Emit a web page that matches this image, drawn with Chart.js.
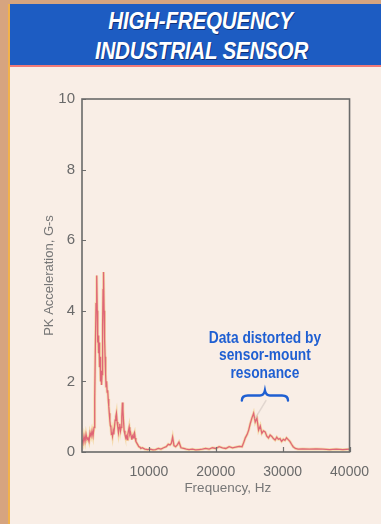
<!DOCTYPE html>
<html>
<head>
<meta charset="utf-8">
<script src="https://cdn.jsdelivr.net/npm/chart.js@4/dist/chart.umd.min.js"></script>
<style>
  html, body { margin: 0; padding: 0; }
  body { width: 381px; height: 524px; background: #d6a47f; position: relative; overflow: hidden; }
  #panel { position: absolute; left: 8px; top: 4px; right: 0; bottom: 0;
           background: #f9eee6; border-left: 2px solid #f2b24a; }
  #header { position: absolute; left: 0; top: 0; right: 0; height: 61px;
            background: #1d5cc2; border-bottom: 2px solid #f07a78; }
  #header div { position: absolute; left: 0; right: 0; text-align: center; color: #fff;
                font-family: "Liberation Sans", Arial, sans-serif;
                font-weight: bold; font-style: italic; font-size: 24px; line-height: 24px;
                letter-spacing: -0.3px;
                transform: scaleX(0.86); transform-origin: 50% 50%;
                text-shadow: 1px 1px 0 #0e2f78; }
  #wrap { position: absolute; left: 10px; top: 67px; width: 371px; height: 457px; }
</style>
</head>
<body>
<div id="panel">
  <div id="header">
    <div style="top:5px; left:10px;">HIGH-FREQUENCY</div>
    <div style="top:35px; left:12px;">INDUSTRIAL SENSOR</div>
  </div>
</div>
<div id="wrap"><canvas id="c" width="371" height="457"></canvas></div>
<script>
// Vibration spectrum of the high-frequency sensor
const freqHz = [
  0, 150, 300, 450, 600, 750, 900, 1050, 1200, 1350, 1500, 1650, 1800, 1900, 2000, 2100, 2200,
  2280, 2350, 2420, 2480, 2550, 2620, 2700, 2780, 2850, 2920, 3000, 3080, 3150, 3220, 3300,
  3380, 3450, 3530, 3600, 3680, 3760, 3840, 3920, 4000, 4080, 4160, 4240, 4320, 4400, 4480,
  4560, 4650, 4750, 4850, 4950, 5050, 5150, 5250, 5350, 5450, 5550, 5650, 5750, 5850, 5950,
  6050, 6120, 6200, 6300, 6420, 6550, 6650, 6750, 6850, 6950, 7050, 7150, 7250, 7350, 7450,
  7550, 7650, 7750, 7850, 7950, 8050, 8200, 8350, 8500, 8650, 8800, 9000, 9400, 9800,
  10200, 10600, 11000, 11400, 11800, 12200, 12600, 12900, 13150, 13350, 13550, 13750, 14000,
  14250, 14500, 14800, 15200, 15600, 16000, 16500, 17000, 17500, 18000, 18500, 19000, 19500,
  20000, 20500, 21000, 21500, 22000, 22500, 23000, 23500, 23930, 24200, 24420, 24700, 24920,
  25150, 25400, 25660, 25900, 26150, 26400, 26650, 26890, 27130, 27380, 27630, 27880, 28130,
  28380, 28620, 28870, 29120, 29360, 29600, 29840, 30100, 30340, 30580, 30830, 31080, 31330,
  31570, 31900, 32300, 33000, 34000, 35000, 36000, 37000, 38000, 39000, 40000
];
const accelG = [
  0.35, 0.25, 0.45, 0.30, 0.50, 0.35, 0.40, 0.30, 0.55, 0.45, 0.60, 0.45, 0.70, 1.50, 3.00, 4.20, 5.00,
  4.00, 3.10, 3.30, 2.80, 3.10, 2.40, 2.70, 2.00, 2.30, 1.90, 2.20, 3.60, 4.60, 5.10, 4.00,
  3.20, 2.70, 2.20, 1.85, 2.00, 1.70, 1.75, 1.50, 1.30, 1.10, 0.90, 0.75, 0.70, 0.50, 0.55,
  0.45, 0.60, 0.50, 0.70, 0.90, 1.00, 1.10, 0.85, 0.70, 0.55, 0.70, 0.80, 0.60, 0.70, 1.00,
  1.40, 1.20, 0.90, 0.60, 0.50, 0.40, 0.45, 0.35, 0.50, 0.60, 0.70, 0.50, 0.55, 0.45, 0.35,
  0.45, 0.40, 0.50, 0.55, 0.40, 0.30, 0.25, 0.20, 0.15, 0.14, 0.10, 0.12, 0.08, 0.07,
  0.08, 0.06, 0.07, 0.10, 0.08, 0.12, 0.15, 0.22, 0.20, 0.24, 0.42, 0.18, 0.15,
  0.20, 0.28, 0.12, 0.10, 0.08, 0.07, 0.08, 0.06, 0.07, 0.08, 0.10, 0.08, 0.12,
  0.10, 0.15, 0.12, 0.10, 0.15, 0.12, 0.14, 0.16, 0.15, 0.28, 0.40, 0.50, 0.62,
  0.80, 0.96, 1.10, 0.85, 0.96, 0.62, 0.74, 0.53, 0.60, 0.57, 0.45, 0.40, 0.48,
  0.44, 0.38, 0.34, 0.42, 0.36, 0.38, 0.30, 0.36, 0.33, 0.40, 0.35, 0.30, 0.22,
  0.15, 0.10, 0.08, 0.09, 0.08, 0.09, 0.08, 0.07, 0.08, 0.07, 0.08
];
const yTickValues = [0, 2, 4, 6, 8, 10];
const xTickValues = [10000, 20000, 30000, 40000];

// Brace over the resonance band and its caption
const braceFromHz = 23900;
const braceToHz = 30800;
const braceLevelG = 1.6;
const noteLines = ['Data distorted by', 'sensor-mount', 'resonance'];

const points = freqHz.map((f, i) => ({ x: f, y: accelG[i] }));

const frameAndNotes = {
  id: 'frameAndNotes',
  afterDraw(chart) {
    const { ctx, chartArea: a, scales: { x, y } } = chart;
    ctx.save();
    // inward tick marks
    ctx.strokeStyle = '#6f6f6f';
    ctx.lineWidth = 1.2;
    ctx.beginPath();
    xTickValues.forEach(v => {
      const px = Math.round(x.getPixelForValue(v)) + 0.5;
      ctx.moveTo(px, a.bottom); ctx.lineTo(px, a.bottom - 5);
    });
    yTickValues.forEach(v => {
      const py = Math.round(y.getPixelForValue(v)) + 0.5;
      ctx.moveTo(a.left, py); ctx.lineTo(a.left + 4, py);
    });
    ctx.stroke();
    // plot frame
    ctx.strokeStyle = '#6a6a6a';
    ctx.lineWidth = 1.6;
    ctx.strokeRect(a.left, a.top, a.right - a.left, a.bottom - a.top);

    // x axis title
    ctx.fillStyle = '#777';
    ctx.font = '13.5px "Liberation Sans", Arial, sans-serif';
    ctx.textAlign = 'center';
    ctx.textBaseline = 'middle';
    ctx.fillText('Frequency, Hz', (a.left + a.right) / 2 + 12, a.bottom + 36);

    // brace
    const bx0 = x.getPixelForValue(braceFromHz);
    const bx1 = x.getPixelForValue(braceToHz);
    const by = y.getPixelForValue(braceLevelG);
    const bm = (bx0 + bx1) / 2;
    ctx.strokeStyle = '#1f5fd2';
    ctx.lineWidth = 2.4;
    ctx.lineCap = 'round';
    ctx.beginPath();
    ctx.moveTo(bx0, by + 5);
    ctx.quadraticCurveTo(bx0, by, bx0 + 6, by);
    ctx.lineTo(bm - 5, by);
    ctx.quadraticCurveTo(bm - 1, by, bm, by - 5);
    ctx.quadraticCurveTo(bm + 1, by, bm + 5, by);
    ctx.lineTo(bx1 - 6, by);
    ctx.quadraticCurveTo(bx1, by, bx1, by + 5);
    ctx.stroke();

    // faint pointer toward the resonance peak
    ctx.strokeStyle = 'rgba(205,195,190,0.55)';
    ctx.lineWidth = 1.5;
    ctx.beginPath();
    ctx.moveTo(bm + 1, by + 5);
    ctx.lineTo(x.getPixelForValue(25900), y.getPixelForValue(0.95));
    ctx.stroke();

    // caption, set in a condensed bold face
    ctx.fillStyle = '#1f5fd2';
    ctx.font = 'bold 16px "Liberation Sans", Arial, sans-serif';
    ctx.translate(bm, 0);
    ctx.scale(0.86, 1);
    noteLines.forEach((t, i) => {
      ctx.fillText(t, 0, by - 57 + i * 17.5);
    });
    ctx.restore();
  }
};

new Chart(document.getElementById('c'), {
  type: 'line',
  data: {
    datasets: [
      {
        data: points,
        borderColor: 'rgba(222,96,116,0.95)',
        borderWidth: 1.3,
        pointRadius: 0,
        tension: 0,
        order: 0
      },
      {
        data: points,
        borderColor: 'rgba(242,200,110,0.5)',
        borderWidth: 2.8,
        pointRadius: 0,
        tension: 0,
        order: 1
      }
    ]
  },
  options: {
    responsive: false,
    animation: false,
    events: [],
    layout: { padding: { top: 32, right: 30, left: 0, bottom: 0 } },
    plugins: { legend: { display: false }, tooltip: { enabled: false } },
    scales: {
      x: {
        type: 'linear',
        min: 0,
        max: 40000,
        afterBuildTicks(s) { s.ticks = [0].concat(xTickValues).map(v => ({ value: v })); },
        afterFit(s) { s.height = 72; },
        grid: { display: false, drawTicks: false },
        border: { display: false },
        ticks: {
          padding: 12,
          maxRotation: 0,
          color: '#6a6a6a',
          font: { family: '"Liberation Sans", Arial, sans-serif', size: 14 },
          callback: v => (v === 0 ? '' : String(v))
        }
      },
      y: {
        min: 0,
        max: 10,
        afterBuildTicks(s) { s.ticks = yTickValues.map(v => ({ value: v })); },
        afterFit(s) { s.width = 72; },
        grid: { display: false, drawTicks: false },
        border: { display: false },
        ticks: {
          padding: 7,
          color: '#6a6a6a',
          font: { family: '"Liberation Sans", Arial, sans-serif', size: 15 }
        },
        title: {
          display: true,
          text: 'PK Acceleration, G-s',
          color: '#777',
          padding: { top: 32, bottom: 0 },
          font: { family: '"Liberation Sans", Arial, sans-serif', size: 13 }
        }
      }
    }
  },
  plugins: [frameAndNotes]
});
</script>
</body>
</html>
